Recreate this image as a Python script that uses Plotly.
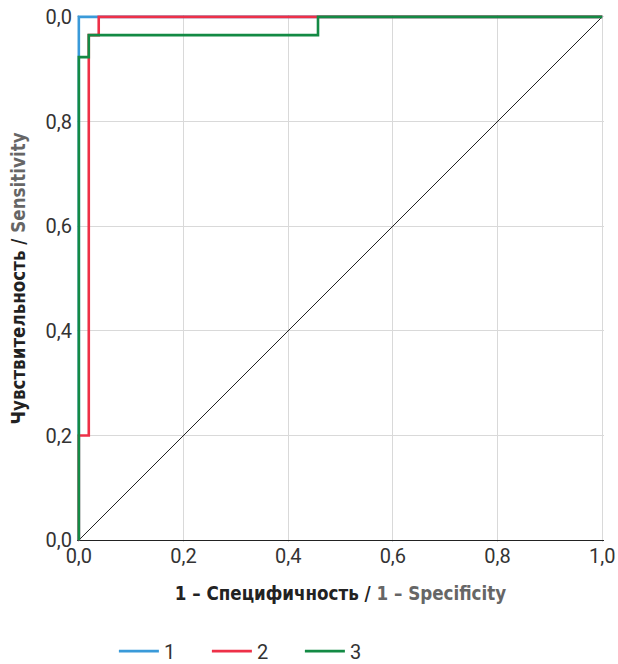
import plotly.graph_objects as go

# ROC curves (1 - specificity, sensitivity)
fpr_1 = [0.0, 0.0, 1.0]
tpr_1 = [0.0, 1.0, 1.0]
fpr_2 = [0.0, 0.0, 0.019, 0.019, 0.038, 0.038, 1.0]
tpr_2 = [0.0, 0.2, 0.2, 0.965, 0.965, 1.0, 1.0]
fpr_3 = [0.0, 0.0, 0.019, 0.019, 0.457, 0.457, 1.0]
tpr_3 = [0.0, 0.923, 0.923, 0.965, 0.965, 1.0, 1.0]
diag = [0.0, 1.0]

tick_vals = [0, 0.2, 0.4, 0.6, 0.8, 1.0]
x_tick_text = ["0,0", "0,2", "0,4", "0,6", "0,8", "1,0"]
y_tick_text = ["0,0", "0,2", "0,4", "0,6", "0,8", "0,0"]

names = ["1", "2", "3"]
colors = ["#3a9ad9", "#ee3048", "#138a44"]

x_title = "<b>1 – Специфичность / <span style='color:#666666'>1 – Specificity</span></b>"
y_title = "<b>Чувствительность / <span style='color:#666666'>Sensitivity</span></b>"

FONT = "DejaVu Sans Condensed, Roboto, Arial, sans-serif"
TICKFONT = "Roboto, Arial, sans-serif"

PAD = 0.0035

fig = go.Figure()
fig.add_trace(go.Scatter(x=diag, y=diag, mode="lines", line=dict(color="#222222", width=1),
                         showlegend=False, hoverinfo="skip"))
for fx, ty, nm, col in [(fpr_1, tpr_1, names[0], colors[0]),
                        (fpr_2, tpr_2, names[1], colors[1]),
                        (fpr_3, tpr_3, names[2], colors[2])]:
    fig.add_trace(go.Scatter(x=fx, y=ty, mode="lines", name=nm,
                             line=dict(color=col, width=2.6)))

fig.update_layout(
    width=618, height=664,
    margin=dict(l=77, r=14, t=15, b=122, autoexpand=False),
    plot_bgcolor="white", paper_bgcolor="white",
    font=dict(family=TICKFONT, size=19, color="#333333"),
    showlegend=True,
    legend=dict(orientation="h", x=0.070, xanchor="left", y=-0.207, yanchor="middle",
                font=dict(family=TICKFONT, size=20, color="#333333"),
                itemwidth=40, entrywidth=38, entrywidthmode="pixels"),
    xaxis=dict(range=[-PAD, 1 + PAD], tickvals=tick_vals, ticktext=x_tick_text, automargin=False,
               showgrid=True, gridcolor="#d9d9d9", gridwidth=1,
               zeroline=False, showline=False,
               ticks="", tickfont=dict(family=TICKFONT, size=20, color="#333333"),
               title=dict(text=x_title,
                          font=dict(family=FONT, size=18.6, color="#222222"), standoff=19)),
    yaxis=dict(range=[-PAD, 1 + PAD], tickvals=tick_vals, ticktext=y_tick_text, automargin=False,
               showgrid=True, gridcolor="#d9d9d9", gridwidth=1,
               zeroline=True, zerolinecolor="#222222", zerolinewidth=1, showline=False,
               ticks="", ticklabelstandoff=4,
               tickfont=dict(family=TICKFONT, size=20, color="#333333")),
    annotations=[dict(text=y_title, textangle=-90, xref="paper", yref="paper",
                      x=(18 - 77) / 527, y=0.5, xanchor="center", yanchor="middle",
                      showarrow=False, font=dict(family=FONT, size=18.6, color="#222222"))],
)

fig.write_html("out.html", config={"displayModeBar": False},
               post_script="document.body.style.margin='0';")
